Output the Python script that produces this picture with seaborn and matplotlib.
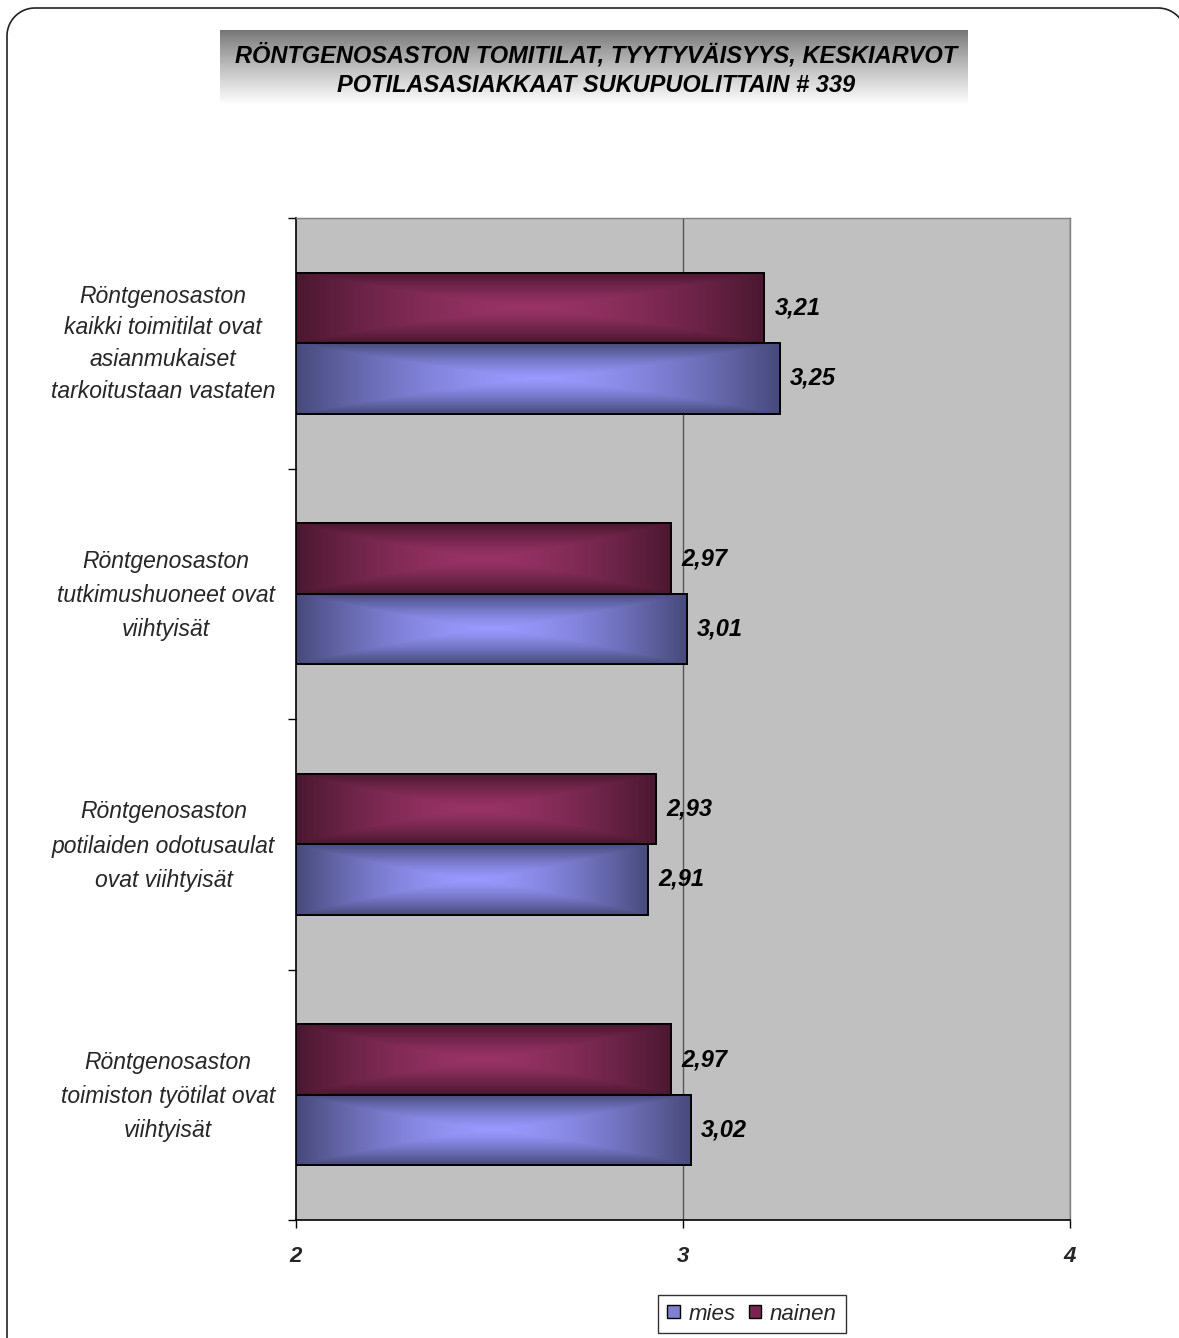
import numpy as np
import pandas as pd
import matplotlib
matplotlib.use("Agg")
import matplotlib.pyplot as plt
import seaborn as sns
from matplotlib.patches import Patch
from matplotlib.colors import to_rgb
from matplotlib.ticker import FixedLocator

# --- data -----------------------------------------------------------------
questions = [
    "Röntgenosaston\nkaikki toimitilat ovat\nasianmukaiset\ntarkoitustaan vastaten",
    "Röntgenosaston\ntutkimushuoneet ovat\nviihtyisät",
    "Röntgenosaston\npotilaiden odotusaulat\novat viihtyisät",
    "Röntgenosaston\ntoimiston työtilat ovat\nviihtyisät",
]
mies = [3.25, 3.01, 2.91, 3.02]
nainen = [3.21, 2.97, 2.93, 2.97]
groups = ["mies", "nainen"]
x_ticks = [2, 3, 4]
title = ("RÖNTGENOSASTON TOMITILAT, TYYTYVÄISYYS, KESKIARVOT\n"
         "POTILASASIAKKAAT SUKUPUOLITTAIN # 339")

df = pd.DataFrame({
    "kysymys": questions * 2,
    "arvo": mies + nainen,
    "sukupuoli": ["mies"] * len(mies) + ["nainen"] * len(nainen),
})

# bar shading: light centre, dark rim
shades = {
    "mies": ("#9999ff", "#474a7a"),
    "nainen": ("#993366", "#4a1830"),
}

sns.set_theme(style="white")
plt.rcParams["font.family"] = ["Liberation Sans", "DejaVu Sans"]

W, H = 1179, 1338
fig = plt.figure(figsize=(W / 100, H / 100), dpi=100)
fig.patch.set_facecolor("white")

# rounded outer frame on a pixel-unit canvas (y grows upwards); it runs
# past the right and bottom edges of the figure
bg = fig.add_axes([0, 0, 1, 1], zorder=-1)
bg.set_xlim(0, W)
bg.set_ylim(0, H)
bg.set_axis_off()
r = 28.0
left, right, top = 7.0, 1186.0, H - 8.0
a_tl = np.linspace(np.pi, np.pi / 2, 40)
a_tr = np.linspace(np.pi / 2, 0, 40)
fx = np.concatenate([[left], left + r + r * np.cos(a_tl),
                     right - r + r * np.cos(a_tr), [right]])
fy = np.concatenate([[-5.0], top - r + r * np.sin(a_tl),
                     top - r + r * np.sin(a_tr), [-5.0]])
bg.plot(fx, fy, color="#222222", linewidth=1.2, solid_joinstyle="round")

# title band with grey-to-white fade
tax = fig.add_axes([220 / W, 1 - 112 / H, 748 / W, 82 / H])
grad = np.linspace(0, 1, 200).reshape(-1, 1)
grad = np.clip(grad * 1.1, 0, 1) ** 0.9
band = 0.46 + 0.54 * grad
tax.imshow(np.dstack([band, band, band]), aspect="auto",
           extent=[0, 1, 0, 1], origin="upper")
tax.set_axis_off()
fig.text(596 / W, 1 - 70 / H, title, ha="center", va="center",
         fontsize=17, fontweight="bold", fontstyle="italic",
         linespacing=1.4, color="black")

ax = fig.add_axes([296 / W, 1 - 1220 / H, (1070 - 296) / W, (1220 - 218) / H])
ax.set_facecolor("#c0c0c0")

sns.barplot(data=df, x="arvo", y="kysymys", hue="sukupuoli",
            hue_order=["nainen", "mies"], orient="h", width=0.5625,
            palette={"mies": "#8080d0", "nainen": "#7a2550"},
            edgecolor="black", linewidth=1.3, legend=False, ax=ax, zorder=3)

ax.set_xlim(x_ticks[0], x_ticks[-1])
ax.set_ylim(len(questions) - 0.5, -0.5)


def shade_image(c_mid, c_edge, nx=300, ny=80):
    xs = np.abs(np.linspace(-1, 1, nx))
    ys = np.abs(np.linspace(-1, 1, ny))
    X, Y = np.meshgrid(xs, ys)
    t = np.maximum(X ** 1.6, Y ** 1.3)
    t = np.clip(t, 0, 1)
    a = np.array(to_rgb(c_mid))
    b = np.array(to_rgb(c_edge))
    return a[None, None, :] * (1 - t[..., None]) + b[None, None, :] * t[..., None]


hue_for_container = ["nainen", "mies"]
for cont, hue in zip(ax.containers, hue_for_container):
    img = shade_image(*shades[hue])
    for bar in cont:
        x0 = max(bar.get_x(), ax.get_xlim()[0])
        x1 = bar.get_x() + bar.get_width()
        y0 = bar.get_y()
        y1 = y0 + bar.get_height()
        im = ax.imshow(img, extent=[x0, x1, y1, y0], aspect="auto",
                       zorder=3.5, interpolation="bilinear")
        im.set_clip_path(bar)
        edge = plt.Rectangle((x0, y0), x1 - x0, y1 - y0, fill=False,
                             edgecolor="black", linewidth=1.3, zorder=4)
        ax.add_patch(edge)
        ax.text(x1 + 0.026, (y0 + y1) / 2,
                f"{x1:.2f}".replace(".", ","), ha="left", va="center",
                fontsize=17, fontweight="bold", fontstyle="italic",
                color="black", zorder=5)

ax.set_aspect("auto")
ax.set_xlim(x_ticks[0], x_ticks[-1])
ax.set_ylim(len(questions) - 0.5, -0.5)

# vertical grid line at 3 and at the right edge
for v in x_ticks[1:]:
    ax.axvline(v, color="#555555", linewidth=1.0, zorder=1)

ax.set_xticks(x_ticks)
ax.set_xticklabels([str(v) for v in x_ticks], fontsize=16,
                   fontweight="bold", fontstyle="italic")
ax.tick_params(axis="x", direction="out", length=6, width=1,
               color="black", pad=13, bottom=True)

# category labels sit at the group centres (nudged up slightly), the
# visible tick marks sit between the groups
ax.set_yticks(np.arange(len(questions)) - 0.025)
ax.set_yticklabels(questions, fontsize=16.5, fontstyle="italic",
                   multialignment="center")
for lbl in ax.get_yticklabels():
    lbl.set_linespacing(1.48 if lbl.get_text().count("\n") >= 3 else 1.62)
ax.tick_params(axis="y", which="major", length=0, pad=15, left=False)
ax.yaxis.set_minor_locator(FixedLocator(np.arange(-0.5, len(questions), 1)))
ax.tick_params(axis="y", which="minor", direction="out", length=6,
               width=1, color="black", left=True)
ax.set_xlabel("")
ax.set_ylabel("")

for side in ["left", "bottom"]:
    ax.spines[side].set_color("black")
    ax.spines[side].set_linewidth(1.2)
for side in ["top", "right"]:
    ax.spines[side].set_color("#808080")
    ax.spines[side].set_linewidth(1.0)
    ax.spines[side].set_visible(True)

handles = [Patch(facecolor="#8080d0", edgecolor="black", linewidth=1.0),
           Patch(facecolor="#7a2550", edgecolor="black", linewidth=1.0)]
leg = fig.legend(handles, groups, loc="center",
                 bbox_to_anchor=(752 / W, 1 - 1314 / H), ncol=2,
                 frameon=True, fancybox=False, handlelength=0.55,
                 handleheight=0.55, handletextpad=0.4, columnspacing=0.6,
                 borderpad=0.4, prop={"size": 16, "style": "italic"})
leg.get_frame().set_edgecolor("black")
leg.get_frame().set_linewidth(1.0)

fig.savefig("out.png", dpi=100, facecolor="white")
